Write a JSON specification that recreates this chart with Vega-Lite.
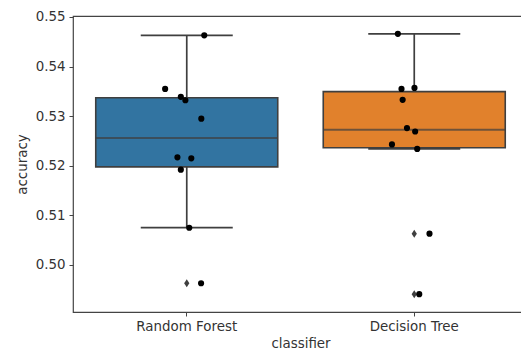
{
  "$schema": "https://vega.github.io/schema/vega-lite/v6.json",
  "autosize": "none",
  "width": 449,
  "height": 296,
  "padding": {"left": 73, "top": 16, "right": 0, "bottom": 42},
  "background": "white",
  "config": {
    "view": {"stroke": "#444", "strokeWidth": 1.2},
    "font": "DejaVu Sans",
    "axis": {
      "grid": false,
      "domain": false,
      "tickColor": "#444",
      "tickSize": 4,
      "labelFont": "DejaVu Sans",
      "labelFontSize": 13.4,
      "labelColor": "#333",
      "titleFont": "DejaVu Sans",
      "titleFontSize": 13.4,
      "titleFontWeight": "normal",
      "titleColor": "#333"
    }
  },
  "data": {
    "values": [
      {"classifier": "Random Forest", "accuracy": 0.5463, "jitter": 0.077},
      {"classifier": "Random Forest", "accuracy": 0.5355, "jitter": -0.095},
      {"classifier": "Random Forest", "accuracy": 0.5339, "jitter": -0.026},
      {"classifier": "Random Forest", "accuracy": 0.5332, "jitter": -0.006},
      {"classifier": "Random Forest", "accuracy": 0.5295, "jitter": 0.064},
      {"classifier": "Random Forest", "accuracy": 0.5217, "jitter": -0.041},
      {"classifier": "Random Forest", "accuracy": 0.5215, "jitter": 0.020},
      {"classifier": "Random Forest", "accuracy": 0.5192, "jitter": -0.026},
      {"classifier": "Random Forest", "accuracy": 0.5075, "jitter": 0.011},
      {"classifier": "Random Forest", "accuracy": 0.4963, "jitter": 0.063},
      {"classifier": "Decision Tree", "accuracy": 0.5466, "jitter": -0.072},
      {"classifier": "Decision Tree", "accuracy": 0.5355, "jitter": -0.056},
      {"classifier": "Decision Tree", "accuracy": 0.5357, "jitter": 0.001},
      {"classifier": "Decision Tree", "accuracy": 0.5333, "jitter": -0.051},
      {"classifier": "Decision Tree", "accuracy": 0.5276, "jitter": -0.032},
      {"classifier": "Decision Tree", "accuracy": 0.5269, "jitter": 0.004},
      {"classifier": "Decision Tree", "accuracy": 0.5243, "jitter": -0.098},
      {"classifier": "Decision Tree", "accuracy": 0.5234, "jitter": 0.013},
      {"classifier": "Decision Tree", "accuracy": 0.5063, "jitter": 0.067},
      {"classifier": "Decision Tree", "accuracy": 0.4941, "jitter": 0.022}
    ]
  },
  "encoding": {
    "x": {
      "field": "classifier",
      "type": "nominal",
      "sort": ["Random Forest", "Decision Tree"],
      "scale": {"range": [0, 455], "paddingInner": 0, "paddingOuter": 0},
      "axis": {"labelAngle": 0, "labelPadding": 3, "titlePadding": 4, "title": "classifier"}
    },
    "y": {
      "field": "accuracy",
      "type": "quantitative",
      "scale": {"domain": [0.4905, 0.5502], "zero": false, "nice": false},
      "axis": {"values": [0.5, 0.51, 0.52, 0.53, 0.54, 0.55], "format": ".2f", "labelPadding": 4, "titlePadding": 6, "title": "accuracy"}
    }
  },
  "layer": [
    {
      "mark": {
        "type": "boxplot",
        "extent": 1.5,
        "size": 182,
        "box": {"stroke": "#3f3f3f", "strokeWidth": 1.6},
        "median": {"color": "#3f3f3f", "thickness": 2},
        "rule": {"color": "#3f3f3f", "strokeWidth": 1.7},
        "ticks": {"color": "#3f3f3f", "size": 92, "thickness": 1.7},
        "outliers": false
      },
      "encoding": {
        "color": {
          "field": "classifier",
          "type": "nominal",
          "scale": {"domain": ["Random Forest", "Decision Tree"], "range": ["#3274a1", "#e1812c"]},
          "legend": null
        }
      }
    },
    {
      "mark": {
        "type": "boxplot",
        "extent": 1.5,
        "size": 182,
        "box": false,
        "median": false,
        "rule": false,
        "ticks": false,
        "outliers": {"shape": "M0,-1L0.65,0L0,1L-0.65,0Z", "size": 64, "color": "#3f3f3f", "filled": true, "opacity": 1}
      }
    },
    {
      "mark": {"type": "circle", "color": "#000", "size": 38, "opacity": 1},
      "encoding": {
        "xOffset": {"field": "jitter", "type": "quantitative", "scale": {"domain": [-0.5, 0.5]}}
      }
    }
  ]
}
